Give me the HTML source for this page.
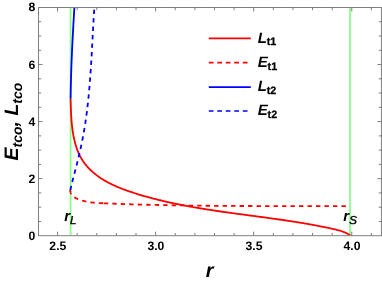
<!DOCTYPE html>
<html><head><meta charset="utf-8"><title>plot</title>
<style>html,body{margin:0;padding:0;background:#fff;overflow:hidden}svg{display:block;will-change:transform}text{font-family:"Liberation Sans",sans-serif;text-rendering:geometricPrecision}</style></head>
<body>
<svg width="382" height="282" viewBox="0 0 382 282">
<defs><clipPath id="c"><rect x="38.5" y="7.5" width="342.7" height="228.2"/></clipPath></defs>
<rect width="382" height="282" fill="#fff"/>
<g clip-path="url(#c)">
<line x1="70.6" y1="7.5" x2="70.6" y2="235.7" stroke="#8cff8c" stroke-width="1.8"/>
<line x1="350.0" y1="7.5" x2="350.0" y2="235.7" stroke="#8cff8c" stroke-width="1.8"/>
<path d="M70.60,98.40 L70.56,99.28 L70.59,100.15 L70.62,101.02 L70.65,101.89 L70.67,102.77 L70.70,103.64 L70.73,104.51 L70.76,105.38 L70.79,106.25 L70.82,107.11 L70.85,107.98 L70.88,108.85 L70.92,109.72 L70.95,110.59 L70.99,111.45 L71.03,112.32 L71.07,113.19 L71.11,114.05 L71.16,114.92 L71.20,115.78 L71.25,116.65 L71.31,117.51 L71.36,118.38 L71.42,119.24 L71.49,120.10 L71.55,120.97 L71.63,121.83 L71.70,122.70 L71.78,123.56 L71.86,124.42 L71.95,125.28 L72.04,126.15 L72.14,127.01 L72.24,127.87 L72.35,128.73 L72.47,129.60 L72.59,130.46 L72.71,131.32 L72.84,132.18 L72.98,133.05 L73.13,133.91 L73.28,134.77 L73.43,135.63 L73.60,136.49 L73.77,137.35 L73.95,138.21 L74.14,139.07 L74.33,139.92 L74.53,140.78 L74.74,141.63 L74.96,142.48 L75.19,143.33 L75.43,144.17 L75.67,145.01 L75.93,145.85 L76.19,146.68 L76.47,147.51 L76.75,148.34 L77.04,149.16 L77.35,149.97 L77.66,150.78 L77.99,151.59 L78.32,152.39 L78.67,153.18 L79.02,153.97 L79.39,154.76 L79.77,155.53 L80.17,156.30 L80.57,157.06 L80.98,157.82 L81.41,158.57 L81.85,159.31 L82.31,160.04 L82.77,160.76 L83.25,161.48 L83.74,162.18 L84.25,162.88 L84.76,163.57 L85.29,164.25 L85.83,164.92 L86.38,165.59 L86.95,166.25 L87.52,166.89 L88.10,167.53 L88.70,168.17 L89.30,168.79 L89.91,169.40 L90.54,170.01 L91.17,170.61 L91.81,171.20 L92.46,171.78 L93.11,172.36 L93.78,172.92 L94.45,173.48 L95.13,174.03 L95.82,174.57 L96.51,175.11 L97.21,175.63 L97.92,176.15 L98.63,176.66 L99.35,177.16 L100.07,177.66 L100.80,178.15 L101.53,178.63 L102.27,179.10 L103.01,179.56 L103.76,180.02 L104.51,180.46 L105.26,180.90 L106.02,181.34 L106.78,181.76 L107.54,182.18 L108.31,182.59 L109.08,183.00 L109.85,183.40 L110.63,183.79 L111.41,184.17 L112.19,184.55 L112.98,184.93 L113.77,185.29 L114.56,185.66 L115.35,186.01 L116.15,186.36 L116.94,186.71 L117.74,187.05 L118.55,187.38 L119.35,187.71 L120.16,188.04 L120.97,188.36 L121.78,188.68 L122.59,188.99 L123.41,189.30 L124.22,189.60 L125.04,189.90 L125.86,190.20 L126.68,190.49 L127.50,190.78 L128.32,191.06 L129.15,191.35 L129.97,191.63 L130.80,191.90 L131.62,192.18 L132.45,192.45 L133.28,192.72 L134.11,192.99 L134.94,193.25 L135.77,193.51 L136.60,193.77 L137.43,194.03 L138.26,194.29 L139.09,194.54 L139.92,194.80 L140.75,195.05 L141.59,195.29 L142.42,195.54 L143.26,195.78 L144.09,196.02 L144.93,196.26 L145.76,196.50 L146.60,196.74 L147.44,196.97 L148.27,197.20 L149.11,197.43 L149.95,197.66 L150.79,197.89 L151.63,198.11 L152.47,198.33 L153.31,198.55 L154.15,198.77 L154.99,198.99 L155.83,199.21 L156.67,199.42 L157.52,199.63 L158.36,199.84 L159.20,200.05 L160.04,200.25 L160.89,200.46 L161.73,200.66 L162.58,200.86 L163.42,201.06 L164.27,201.26 L165.12,201.46 L165.96,201.65 L166.81,201.84 L167.66,202.04 L168.50,202.23 L169.35,202.41 L170.20,202.60 L171.05,202.79 L171.90,202.97 L172.75,203.15 L173.60,203.33 L174.45,203.51 L175.30,203.69 L176.15,203.87 L177.00,204.04 L177.85,204.22 L178.70,204.39 L179.56,204.56 L180.41,204.73 L181.26,204.90 L182.11,205.07 L182.97,205.23 L183.82,205.40 L184.67,205.56 L185.53,205.72 L186.38,205.88 L187.24,206.04 L188.09,206.20 L188.95,206.36 L189.80,206.51 L190.66,206.67 L191.52,206.82 L192.37,206.98 L193.23,207.13 L194.09,207.28 L194.94,207.43 L195.80,207.58 L196.66,207.72 L197.52,207.87 L198.37,208.01 L199.23,208.16 L200.09,208.30 L200.95,208.45 L201.81,208.59 L202.67,208.73 L203.53,208.87 L204.39,209.01 L205.25,209.14 L206.11,209.28 L206.97,209.42 L207.83,209.55 L208.69,209.69 L209.55,209.82 L210.41,209.95 L211.27,210.09 L212.13,210.22 L212.99,210.35 L213.85,210.48 L214.72,210.61 L215.58,210.74 L216.44,210.87 L217.30,210.99 L218.16,211.12 L219.02,211.25 L219.89,211.37 L220.75,211.50 L221.61,211.62 L222.47,211.74 L223.34,211.87 L224.20,211.99 L225.06,212.11 L225.93,212.24 L226.79,212.36 L227.65,212.48 L228.52,212.60 L229.38,212.72 L230.24,212.84 L231.11,212.96 L231.97,213.08 L232.83,213.19 L233.70,213.31 L234.56,213.43 L235.42,213.55 L236.29,213.67 L237.15,213.78 L238.01,213.90 L238.88,214.02 L239.74,214.13 L240.61,214.25 L241.47,214.36 L242.33,214.48 L243.20,214.59 L244.06,214.71 L244.92,214.83 L245.79,214.94 L246.65,215.06 L247.52,215.17 L248.38,215.28 L249.24,215.40 L250.11,215.51 L250.97,215.63 L251.83,215.74 L252.70,215.86 L253.56,215.97 L254.42,216.09 L255.29,216.20 L256.15,216.32 L257.01,216.43 L257.88,216.55 L258.74,216.66 L259.60,216.78 L260.47,216.89 L261.33,217.01 L262.19,217.12 L263.05,217.24 L263.92,217.36 L264.78,217.47 L265.64,217.59 L266.50,217.71 L267.37,217.82 L268.23,217.94 L269.09,218.06 L269.95,218.18 L270.81,218.30 L271.68,218.42 L272.54,218.54 L273.40,218.66 L274.26,218.78 L275.12,218.90 L275.98,219.02 L276.84,219.14 L277.71,219.26 L278.57,219.38 L279.43,219.51 L280.29,219.63 L281.15,219.76 L282.01,219.88 L282.87,220.01 L283.73,220.13 L284.59,220.26 L285.45,220.38 L286.31,220.51 L287.17,220.64 L288.03,220.77 L288.89,220.90 L289.75,221.03 L290.61,221.16 L291.47,221.29 L292.33,221.43 L293.19,221.56 L294.04,221.70 L294.90,221.83 L295.76,221.97 L296.62,222.10 L297.48,222.24 L298.34,222.38 L299.19,222.52 L300.05,222.66 L300.91,222.80 L301.77,222.94 L302.62,223.09 L303.48,223.23 L304.34,223.38 L305.20,223.52 L306.05,223.67 L306.91,223.82 L307.77,223.97 L308.62,224.12 L309.48,224.27 L310.33,224.42 L311.19,224.58 L312.04,224.73 L312.90,224.89 L313.76,225.05 L314.61,225.21 L315.47,225.37 L316.32,225.53 L317.18,225.69 L318.03,225.85 L318.88,226.02 L319.74,226.18 L320.59,226.35 L321.45,226.52 L322.30,226.69 L323.15,226.86 L324.01,227.04 L324.86,227.21 L325.71,227.39 L326.56,227.56 L327.42,227.74 L328.27,227.92 L329.12,228.10 L329.97,228.29 L330.83,228.47 L331.68,228.66 L332.53,228.85 L333.38,229.03 L334.23,229.23 L335.08,229.42 L335.93,229.62 L336.77,229.83 L337.61,230.04 L338.45,230.26 L339.29,230.49 L340.12,230.73 L340.95,230.99 L341.77,231.25 L342.58,231.53 L343.39,231.83 L344.19,232.14 L344.98,232.47 L345.77,232.82 L346.54,233.19 L347.31,233.58 L348.07,233.99 L348.81,234.43 L349.55,234.89 L350.00,235.70" fill="none" stroke="#ff0000" stroke-width="1.8" stroke-linejoin="round"/>
<path d="M70.60,190.20 L70.29,190.79 L70.34,191.31 L70.42,191.80 L70.53,192.27 L70.66,192.72 L70.82,193.16 L71.00,193.57 L71.21,193.97 L71.44,194.36 L71.68,194.72 L71.95,195.07 L72.24,195.41 L72.54,195.73 L72.86,196.04 L73.20,196.34 L73.55,196.62 L73.91,196.89 L74.29,197.15 L74.67,197.40 L75.07,197.63 L75.47,197.86 L75.88,198.08 L76.30,198.29 L76.73,198.50 L77.16,198.69 L77.59,198.88 L78.02,199.07 L78.46,199.24 L78.90,199.42 L79.34,199.58 L79.78,199.74 L80.22,199.90 L80.66,200.05 L81.10,200.20 L81.55,200.34 L82.00,200.48 L82.44,200.61 L82.89,200.74 L83.34,200.86 L83.79,200.98 L84.24,201.10 L84.69,201.21 L85.15,201.32 L85.60,201.42 L86.05,201.52 L86.51,201.61 L86.97,201.70 L87.42,201.79 L87.88,201.88 L88.34,201.96 L88.80,202.03 L89.26,202.11 L89.72,202.18 L90.19,202.25 L90.65,202.31 L91.11,202.37 L91.58,202.43 L92.04,202.49 L92.51,202.54 L92.97,202.59 L93.44,202.64 L93.90,202.69 L94.37,202.73 L94.84,202.78 L95.31,202.82 L95.78,202.86 L96.25,202.89 L96.72,202.93 L97.19,202.96 L97.66,202.99 L98.13,203.02 L98.60,203.05 L99.07,203.08 L99.54,203.10 L100.01,203.13 L100.48,203.15 L100.95,203.18 L101.43,203.20 L101.90,203.22 L102.37,203.24 L102.84,203.26 L103.32,203.28 L103.79,203.30" fill="none" stroke="#ff0000" stroke-width="1.8" stroke-dasharray="4.4 4.09"/>
<path d="M103.79,203.30 L104.26,203.32 L104.73,203.34 L105.21,203.36 L105.68,203.38 L106.15,203.40 L106.62,203.42 L107.10,203.44 L107.57,203.46 L108.04,203.47 L108.51,203.49 L108.99,203.51 L109.46,203.53 L109.93,203.55 L110.40,203.57 L110.88,203.59 L111.35,203.60 L111.82,203.62 L112.29,203.64 L112.77,203.66 L113.24,203.67 L113.71,203.69 L114.18,203.71 L114.65,203.73 L115.13,203.74 L115.60,203.76 L116.07,203.78 L116.54,203.80 L117.01,203.81 L117.49,203.83 L117.96,203.85 L118.43,203.86 L118.90,203.88 L119.38,203.90 L119.85,203.91 L120.32,203.93 L120.79,203.95 L121.26,203.96 L121.73,203.98 L122.21,203.99 L122.68,204.01 L123.15,204.03 L123.62,204.04 L124.09,204.06 L124.57,204.07 L125.04,204.09 L125.51,204.10 L125.98,204.12 L126.45,204.14 L126.92,204.15 L127.40,204.17 L127.87,204.18 L128.34,204.20 L128.81,204.21 L129.28,204.23 L129.75,204.24 L130.23,204.26 L130.70,204.27 L131.17,204.28 L131.64,204.30 L132.11,204.31 L132.58,204.33 L133.05,204.34 L133.53,204.36 L134.00,204.37 L134.47,204.38 L134.94,204.40 L135.41,204.41 L135.88,204.42 L136.35,204.44 L136.83,204.45 L137.30,204.47 L137.77,204.48 L138.24,204.49 L138.71,204.51 L139.18,204.52 L139.65,204.53 L140.12,204.55 L140.60,204.56 L141.07,204.57 L141.54,204.58 L142.01,204.60 L142.48,204.61 L142.95,204.62 L143.42,204.63 L143.89,204.65 L144.36,204.66 L144.84,204.67 L145.31,204.68 L145.78,204.70 L146.25,204.71 L146.72,204.72 L147.19,204.73 L147.66,204.74 L148.13,204.76 L148.60,204.77 L149.07,204.78 L149.55,204.79 L150.02,204.80 L150.49,204.81 L150.96,204.82 L151.43,204.84 L151.90,204.85 L152.37,204.86 L152.84,204.87 L153.31,204.88 L153.78,204.89 L154.25,204.90 L154.73,204.91 L155.20,204.92 L155.67,204.93 L156.14,204.95 L156.61,204.96 L157.08,204.97 L157.55,204.98 L158.02,204.99 L158.49,205.00 L158.96,205.01 L159.43,205.02 L159.90,205.03 L160.37,205.04 L160.84,205.05 L161.31,205.06 L161.79,205.07 L162.26,205.08 L162.73,205.09 L163.20,205.10 L163.67,205.11 L164.14,205.12 L164.61,205.13 L165.08,205.13 L165.55,205.14 L166.02,205.15 L166.49,205.16 L166.96,205.17 L167.43,205.18 L167.90,205.19 L168.37,205.20 L168.84,205.21 L169.31,205.22 L169.78,205.22 L170.25,205.23 L170.72,205.24 L171.20,205.25 L171.67,205.26 L172.14,205.27 L172.61,205.28 L173.08,205.28 L173.55,205.29 L174.02,205.30 L174.49,205.31 L174.96,205.32 L175.43,205.32 L175.90,205.33 L176.37,205.34 L176.84,205.35 L177.31,205.36 L177.78,205.36 L178.25,205.37 L178.72,205.38 L179.19,205.39 L179.66,205.39 L180.13,205.40 L180.60,205.41 L181.07,205.42 L181.54,205.42 L182.01,205.43 L182.48,205.44 L182.95,205.45 L183.42,205.45 L183.89,205.46 L184.36,205.47 L184.83,205.47 L185.30,205.48 L185.77,205.49 L186.24,205.49 L186.71,205.50 L187.18,205.51 L187.65,205.51 L188.12,205.52 L188.59,205.53 L189.06,205.53 L189.53,205.54 L190.00,205.55 L190.47,205.55 L190.94,205.56 L191.41,205.57 L191.88,205.57 L192.35,205.58 L192.82,205.58 L193.29,205.59 L193.76,205.60 L194.23,205.60 L194.70,205.61 L195.17,205.61 L195.64,205.62 L196.11,205.62 L196.58,205.63 L197.05,205.64 L197.52,205.64 L197.99,205.65 L198.46,205.65 L198.93,205.66 L199.40,205.66 L199.87,205.67 L200.34,205.67 L200.81,205.68 L201.28,205.68 L201.75,205.69 L202.22,205.69 L202.69,205.70 L203.16,205.70 L203.63,205.71 L204.10,205.71 L204.57,205.72 L205.04,205.72 L205.51,205.73 L205.98,205.73 L206.45,205.74 L206.92,205.74 L207.39,205.75 L207.86,205.75 L208.33,205.76 L208.80,205.76 L209.27,205.77 L209.74,205.77 L210.21,205.77 L210.68,205.78 L211.15,205.78 L211.62,205.79 L212.09,205.79 L212.56,205.79 L213.03,205.80 L213.50,205.80 L213.97,205.81 L214.44,205.81 L214.91,205.82 L215.38,205.82 L215.85,205.82 L216.32,205.83 L216.79,205.83 L217.26,205.83 L217.73,205.84 L218.20,205.84 L218.67,205.85 L219.14,205.85 L219.61,205.85 L220.08,205.86 L220.54,205.86 L221.01,205.86 L221.48,205.87 L221.95,205.87 L222.42,205.87 L222.89,205.88 L223.36,205.88 L223.83,205.88 L224.30,205.89 L224.77,205.89 L225.24,205.89 L225.71,205.90 L226.18,205.90 L226.65,205.90 L227.12,205.90 L227.59,205.91 L228.06,205.91 L228.53,205.91 L229.00,205.92 L229.47,205.92 L229.94,205.92 L230.41,205.93 L230.88,205.93 L231.35,205.93 L231.82,205.93 L232.29,205.94 L232.76,205.94 L233.23,205.94 L233.70,205.94 L234.17,205.95 L234.64,205.95 L235.11,205.95 L235.58,205.95 L236.05,205.96 L236.52,205.96 L236.99,205.96 L237.46,205.96 L237.93,205.97 L238.40,205.97 L238.86,205.97 L239.33,205.97 L239.80,205.97 L240.27,205.98 L240.74,205.98 L241.21,205.98 L241.68,205.98 L242.15,205.99 L242.62,205.99 L243.09,205.99 L243.56,205.99 L244.03,205.99 L244.50,206.00 L244.97,206.00 L245.44,206.00 L245.91,206.00 L246.38,206.00 L246.85,206.00 L247.32,206.01 L247.79,206.01 L248.26,206.01 L248.73,206.01 L249.20,206.01 L249.67,206.02 L250.14,206.02 L250.61,206.02 L251.08,206.02 L251.55,206.02 L252.02,206.02 L252.49,206.03 L252.96,206.03 L253.43,206.03 L253.90,206.03 L254.37,206.03 L254.84,206.03 L255.31,206.03 L255.78,206.04 L256.25,206.04 L256.72,206.04 L257.19,206.04 L257.66,206.04 L258.13,206.04 L258.60,206.04 L259.07,206.05 L259.54,206.05 L260.01,206.05 L260.48,206.05 L260.95,206.05 L261.42,206.05 L261.89,206.05 L262.36,206.05 L262.83,206.05 L263.30,206.06 L263.77,206.06 L264.24,206.06 L264.71,206.06 L265.18,206.06 L265.65,206.06 L266.12,206.06 L266.59,206.06 L267.06,206.06 L267.53,206.07 L268.00,206.07 L268.47,206.07 L268.94,206.07 L269.41,206.07 L269.88,206.07 L270.35,206.07 L270.82,206.07 L271.29,206.07 L271.76,206.07 L272.23,206.08 L272.70,206.08 L273.17,206.08 L273.64,206.08 L274.11,206.08 L274.58,206.08 L275.05,206.08 L275.52,206.08 L275.99,206.08 L276.46,206.08 L276.93,206.08 L277.40,206.08 L277.87,206.09 L278.34,206.09 L278.81,206.09 L279.28,206.09 L279.75,206.09 L280.22,206.09 L280.69,206.09 L281.16,206.09 L281.63,206.09 L282.10,206.09 L282.57,206.09 L283.04,206.09 L283.51,206.09 L283.98,206.10 L284.45,206.10 L284.92,206.10 L285.39,206.10 L285.86,206.10 L286.33,206.10 L286.80,206.10 L287.27,206.10 L287.74,206.10 L288.21,206.10 L288.68,206.10 L289.15,206.10 L289.62,206.10 L290.09,206.10 L290.56,206.10 L291.03,206.11 L291.51,206.11 L291.98,206.11 L292.45,206.11 L292.92,206.11 L293.39,206.11 L293.86,206.11 L294.33,206.11 L294.80,206.11 L295.27,206.11 L295.74,206.11 L296.21,206.11 L296.68,206.11 L297.15,206.11 L297.62,206.11 L298.09,206.11 L298.56,206.12 L299.03,206.12 L299.50,206.12 L299.97,206.12 L300.44,206.12 L300.92,206.12 L301.39,206.12 L301.86,206.12 L302.33,206.12 L302.80,206.12 L303.27,206.12 L303.74,206.12 L304.21,206.12 L304.68,206.12 L305.15,206.12 L305.62,206.13 L306.09,206.13 L306.56,206.13 L307.03,206.13 L307.51,206.13 L307.98,206.13 L308.45,206.13 L308.92,206.13 L309.39,206.13 L309.86,206.13 L310.33,206.13 L310.80,206.13 L311.27,206.13 L311.74,206.14 L312.21,206.14 L312.69,206.14 L313.16,206.14 L313.63,206.14 L314.10,206.14 L314.57,206.14 L315.04,206.14 L315.51,206.14 L315.98,206.14 L316.45,206.14 L316.92,206.14 L317.40,206.15 L317.87,206.15 L318.34,206.15 L318.81,206.15 L319.28,206.15 L319.75,206.15 L320.22,206.15 L320.69,206.15 L321.17,206.15 L321.64,206.15 L322.11,206.15 L322.58,206.16 L323.05,206.16 L323.52,206.16 L323.99,206.16 L324.46,206.16 L324.94,206.16 L325.41,206.16 L325.88,206.16 L326.35,206.16 L326.82,206.17 L327.29,206.17 L327.76,206.17 L328.24,206.17 L328.71,206.17 L329.18,206.17 L329.65,206.17 L330.12,206.17 L330.59,206.18 L331.06,206.18 L331.54,206.18 L332.01,206.18 L332.48,206.18 L332.95,206.18 L333.42,206.18 L333.89,206.19 L334.37,206.19 L334.84,206.19 L335.31,206.19 L335.78,206.19 L336.25,206.19 L336.72,206.19 L337.20,206.20 L337.67,206.20 L338.14,206.20 L338.61,206.20 L339.08,206.20 L339.56,206.20 L340.03,206.21 L340.50,206.21 L340.97,206.21 L341.44,206.21 L341.91,206.21 L342.39,206.21 L342.86,206.22 L343.33,206.22 L343.80,206.22 L344.28,206.22 L344.75,206.22 L345.22,206.23 L345.69,206.23 L346.16,206.23 L346.60,206.20" fill="none" stroke="#ff0000" stroke-width="1.8" stroke-dasharray="4.4 4.09"/>
<path d="M70.60,98.40 L70.60,97.48 L70.62,96.56 L70.63,95.64 L70.64,94.72 L70.66,93.80 L70.67,92.89 L70.69,91.97 L70.71,91.05 L70.72,90.13 L70.74,89.21 L70.76,88.29 L70.78,87.37 L70.80,86.45 L70.82,85.53 L70.84,84.62 L70.87,83.70 L70.89,82.78 L70.91,81.86 L70.94,80.94 L70.96,80.02 L70.99,79.10 L71.01,78.18 L71.04,77.27 L71.07,76.35 L71.09,75.43 L71.12,74.51 L71.15,73.59 L71.18,72.67 L71.21,71.75 L71.24,70.84 L71.27,69.92 L71.31,69.00 L71.34,68.08 L71.37,67.16 L71.40,66.24 L71.44,65.32 L71.47,64.41 L71.51,63.49 L71.54,62.57 L71.58,61.65 L71.62,60.73 L71.65,59.81 L71.69,58.90 L71.73,57.98 L71.77,57.06 L71.81,56.14 L71.85,55.22 L71.89,54.31 L71.93,53.39 L71.97,52.47 L72.01,51.55 L72.05,50.63 L72.09,49.71 L72.13,48.80 L72.18,47.88 L72.22,46.96 L72.26,46.04 L72.31,45.12 L72.35,44.21 L72.40,43.29 L72.44,42.37 L72.49,41.45 L72.53,40.53 L72.58,39.62 L72.63,38.70 L72.67,37.78 L72.72,36.86 L72.77,35.94 L72.82,35.03 L72.87,34.11 L72.91,33.19 L72.96,32.27 L73.01,31.36 L73.06,30.44 L73.11,29.52 L73.16,28.60 L73.21,27.68 L73.26,26.77 L73.31,25.85 L73.37,24.93 L73.42,24.01 L73.47,23.10 L73.52,22.18 L73.57,21.26 L73.63,20.34 L73.68,19.43 L73.73,18.51 L73.78,17.59 L73.84,16.67 L73.89,15.76 L73.95,14.84 L74.00,13.92 L74.05,13.00 L74.11,12.09 L74.16,11.17 L74.22,10.25 L74.27,9.33 L74.33,8.42 L74.40,7.50" fill="none" stroke="#0000ff" stroke-width="1.8"/>
<path d="M70.60,190.20 L70.46,189.55 L70.59,188.95 L70.72,188.35 L70.85,187.75 L70.99,187.15 L71.13,186.55 L71.27,185.95 L71.41,185.35 L71.55,184.75 L71.70,184.15 L71.84,183.56 L71.99,182.96 L72.14,182.36 L72.29,181.76 L72.44,181.17 L72.59,180.57 L72.74,179.97 L72.90,179.37 L73.05,178.78 L73.21,178.18 L73.36,177.58 L73.52,176.99 L73.67,176.39 L73.83,175.79 L73.99,175.20 L74.15,174.60 L74.30,174.00 L74.46,173.41 L74.62,172.81 L74.78,172.21 L74.93,171.61 L75.09,171.02 L75.25,170.42 L75.40,169.82 L75.56,169.22 L75.71,168.63 L75.87,168.03 L76.02,167.43 L76.17,166.83 L76.33,166.23 L76.48,165.63 L76.63,165.03 L76.79,164.43 L76.94,163.83 L77.09,163.23 L77.24,162.64 L77.39,162.04 L77.54,161.44 L77.68,160.83 L77.83,160.23 L77.98,159.63 L78.13,159.03 L78.27,158.43 L78.42,157.83 L78.56,157.23 L78.71,156.63 L78.85,156.03 L78.99,155.43 L79.13,154.82 L79.28,154.22 L79.42,153.62 L79.56,153.02 L79.70,152.41 L79.83,151.81 L79.97,151.21 L80.11,150.61 L80.24,150.00 L80.38,149.40 L80.51,148.80 L80.64,148.19 L80.78,147.59 L80.91,146.98 L81.04,146.38 L81.17,145.78 L81.30,145.17 L81.43,144.57 L81.55,143.96 L81.68,143.36 L81.80,142.75 L81.93,142.15 L82.05,141.54 L82.17,140.93 L82.29,140.33 L82.41,139.72 L82.53,139.12 L82.65,138.51 L82.76,137.90 L82.88,137.30 L82.99,136.69 L83.11,136.08 L83.22,135.47 L83.33,134.87 L83.44,134.26 L83.55,133.65 L83.66,133.04 L83.77,132.44 L83.87,131.83 L83.98,131.22 L84.09,130.61 L84.19,130.00 L84.29,129.39 L84.39,128.79 L84.49,128.18 L84.59,127.57 L84.69,126.96 L84.79,126.35 L84.89,125.74 L84.98,125.13 L85.08,124.52 L85.17,123.91 L85.27,123.30 L85.36,122.69 L85.45,122.08 L85.54,121.47 L85.63,120.86 L85.72,120.25 L85.81,119.63 L85.90,119.02 L85.98,118.41 L86.07,117.80 L86.16,117.19 L86.24,116.58 L86.32,115.97 L86.41,115.35 L86.49,114.74 L86.57,114.13 L86.65,113.52 L86.73,112.90 L86.81,112.29 L86.89,111.68 L86.96,111.07 L87.04,110.45 L87.11,109.84 L87.19,109.23 L87.26,108.61 L87.34,108.00 L87.41,107.39 L87.48,106.77 L87.55,106.16 L87.62,105.55 L87.69,104.93 L87.76,104.32 L87.83,103.71 L87.90,103.09 L87.97,102.48 L88.03,101.86 L88.10,101.25 L88.16,100.63 L88.23,100.02 L88.29,99.41 L88.36,98.79 L88.42,98.18 L88.48,97.56 L88.54,96.95 L88.60,96.33 L88.66,95.72 L88.72,95.10 L88.78,94.49 L88.84,93.87 L88.90,93.25 L88.96,92.64 L89.01,92.02 L89.07,91.41 L89.13,90.79 L89.18,90.18 L89.24,89.56 L89.29,88.94 L89.34,88.33 L89.40,87.71 L89.45,87.10 L89.50,86.48 L89.55,85.86 L89.60,85.25 L89.66,84.63 L89.71,84.01 L89.76,83.40 L89.80,82.78 L89.85,82.16 L89.90,81.55 L89.95,80.93 L90.00,80.31 L90.04,79.70 L90.09,79.08 L90.14,78.46 L90.18,77.85 L90.23,77.23 L90.27,76.61 L90.32,76.00 L90.36,75.38 L90.41,74.76 L90.45,74.14 L90.49,73.53 L90.54,72.91 L90.58,72.29 L90.62,71.67 L90.66,71.06 L90.70,70.44 L90.74,69.82 L90.79,69.20 L90.83,68.59 L90.87,67.97 L90.91,67.35 L90.95,66.73 L90.98,66.12 L91.02,65.50 L91.06,64.88 L91.10,64.26 L91.14,63.65 L91.18,63.03 L91.21,62.41 L91.25,61.79 L91.29,61.18 L91.33,60.56 L91.36,59.94 L91.40,59.32 L91.44,58.70 L91.47,58.09 L91.51,57.47 L91.54,56.85 L91.58,56.23 L91.61,55.61 L91.65,55.00 L91.68,54.38 L91.72,53.76 L91.75,53.14 L91.79,52.53 L91.82,51.91 L91.86,51.29 L91.89,50.67 L91.93,50.05 L91.96,49.44 L91.99,48.82 L92.03,48.20 L92.06,47.58 L92.09,46.97 L92.13,46.35 L92.16,45.73 L92.19,45.11 L92.23,44.49 L92.26,43.88 L92.29,43.26 L92.33,42.64 L92.36,42.02 L92.39,41.41 L92.43,40.79 L92.46,40.17 L92.49,39.55 L92.53,38.94 L92.56,38.32 L92.59,37.70 L92.62,37.08 L92.66,36.47 L92.69,35.85 L92.72,35.23 L92.76,34.62 L92.79,34.00 L92.82,33.38 L92.86,32.76 L92.89,32.15 L92.92,31.53 L92.96,30.91 L92.99,30.30 L93.02,29.68 L93.06,29.06 L93.09,28.45 L93.13,27.83 L93.16,27.21 L93.19,26.60 L93.23,25.98 L93.26,25.36 L93.30,24.75 L93.33,24.13 L93.37,23.51 L93.40,22.90 L93.44,22.28 L93.47,21.67 L93.51,21.05 L93.54,20.43 L93.58,19.82 L93.62,19.20 L93.65,18.59 L93.69,17.97 L93.73,17.36 L93.76,16.74 L93.80,16.12 L93.84,15.51 L93.88,14.89 L93.92,14.28 L93.95,13.66 L93.99,13.05 L94.03,12.43 L94.07,11.82 L94.11,11.20 L94.15,10.59 L94.19,9.97 L94.23,9.36 L94.27,8.75 L94.31,8.13 L94.30,7.50" fill="none" stroke="#0000ff" stroke-width="1.8" stroke-dasharray="4.4 4.09"/>
</g>
<rect x="38.5" y="7.5" width="342.95" height="228.2" fill="none" stroke="#808080" stroke-width="1"/>
<path d="M57.55,235.7v-4.0M57.55,7.5v4.0M77.17,235.7v-2.7M77.17,7.5v2.7M96.78,235.7v-2.7M96.78,7.5v2.7M116.39,235.7v-2.7M116.39,7.5v2.7M136.01,235.7v-2.7M136.01,7.5v2.7M155.62,235.7v-4.0M155.62,7.5v4.0M175.24,235.7v-2.7M175.24,7.5v2.7M194.86,235.7v-2.7M194.86,7.5v2.7M214.47,235.7v-2.7M214.47,7.5v2.7M234.08,235.7v-2.7M234.08,7.5v2.7M253.70,235.7v-4.0M253.70,7.5v4.0M273.31,235.7v-2.7M273.31,7.5v2.7M292.93,235.7v-2.7M292.93,7.5v2.7M312.54,235.7v-2.7M312.54,7.5v2.7M332.16,235.7v-2.7M332.16,7.5v2.7M351.78,235.7v-4.0M351.78,7.5v4.0M371.39,235.7v-2.7M371.39,7.5v2.7M38.5,221.44h2.7M381.45,221.44h-2.7M38.5,207.17h2.7M381.45,207.17h-2.7M38.5,192.91h2.7M381.45,192.91h-2.7M38.5,178.65h4.0M381.45,178.65h-4.0M38.5,164.39h2.7M381.45,164.39h-2.7M38.5,150.12h2.7M381.45,150.12h-2.7M38.5,135.86h2.7M381.45,135.86h-2.7M38.5,121.60h4.0M381.45,121.60h-4.0M38.5,107.34h2.7M381.45,107.34h-2.7M38.5,93.07h2.7M381.45,93.07h-2.7M38.5,78.81h2.7M381.45,78.81h-2.7M38.5,64.55h4.0M381.45,64.55h-4.0M38.5,50.29h2.7M381.45,50.29h-2.7M38.5,36.03h2.7M381.45,36.03h-2.7M38.5,21.76h2.7M381.45,21.76h-2.7" stroke="#6e6e6e" stroke-width="0.9" fill="none"/>
<g font-family="Liberation Sans, sans-serif" font-weight="bold" font-size="12.2px" fill="#000">
<text x="57.85" y="250.35" text-anchor="middle">2.5</text>
<text x="155.93" y="250.35" text-anchor="middle">3.0</text>
<text x="254.00" y="250.35" text-anchor="middle">3.5</text>
<text x="352.08" y="250.35" text-anchor="middle">4.0</text>
<text x="35.3" y="240.1" text-anchor="end">0</text>
<text x="35.3" y="183.1" text-anchor="end">2</text>
<text x="35.3" y="125.85" text-anchor="end">4</text>
<text x="35.3" y="68.55" text-anchor="end">6</text>
<text x="35.3" y="11.25" text-anchor="end">8</text>
</g>
<text x="209.6" y="277.4" font-size="20px" text-anchor="middle" font-family="Liberation Sans, sans-serif" font-weight="bold" font-style="italic" fill="#000">r</text>
<g transform="translate(17.9,121.5) rotate(-90)" font-family="Liberation Sans, sans-serif" font-weight="bold" font-style="italic" fill="#000">
<text x="-38.89" y="0" font-size="19.5px">E</text>
<text x="-25.88" y="3.6" font-size="14px">tco</text>
<text x="-4.88" y="0" font-size="19.5px">,</text>
<text x="5.97" y="0" font-size="19.5px">L</text>
<text x="17.89" y="3.6" font-size="14px">tco</text>
</g>
<text x="64.3" y="221.4" font-size="15px" font-family="Liberation Sans, sans-serif" font-weight="bold" font-style="italic" fill="#000">r</text>
<text x="69.9" y="223.7" font-size="11.5px" stroke="#000" stroke-width="0.4" font-family="Liberation Sans, sans-serif" font-style="italic" fill="#000">L</text>
<text x="343.2" y="221.4" font-size="15px" font-family="Liberation Sans, sans-serif" font-weight="bold" font-style="italic" fill="#000">r</text>
<text x="349.3" y="223.9" font-size="11.5px" stroke="#000" stroke-width="0.4" font-family="Liberation Sans, sans-serif" font-style="italic" fill="#000">S</text>
<line x1="208.8" y1="38.4" x2="250.8" y2="38.4" stroke="#ff0000" stroke-width="1.7"/>
<text x="257.7" y="42.65" font-size="15px" font-family="Liberation Sans, sans-serif" font-weight="bold" font-style="italic" fill="#000">L</text>
<text x="266.77" y="45.40" font-size="10.8px" font-family="Liberation Sans, sans-serif" font-weight="bold" fill="#000" stroke="#000" stroke-width="0.25">t1</text>
<line x1="208.8" y1="62.7" x2="250.8" y2="62.7" stroke="#ff0000" stroke-width="1.7" stroke-dasharray="4.7 3.8"/>
<text x="257.7" y="66.95" font-size="15px" font-family="Liberation Sans, sans-serif" font-weight="bold" font-style="italic" fill="#000">E</text>
<text x="267.60" y="69.70" font-size="10.8px" font-family="Liberation Sans, sans-serif" font-weight="bold" fill="#000" stroke="#000" stroke-width="0.25">t1</text>
<line x1="208.8" y1="87.1" x2="250.8" y2="87.1" stroke="#0000ff" stroke-width="1.7"/>
<text x="257.7" y="91.35" font-size="15px" font-family="Liberation Sans, sans-serif" font-weight="bold" font-style="italic" fill="#000">L</text>
<text x="266.77" y="94.10" font-size="10.8px" font-family="Liberation Sans, sans-serif" font-weight="bold" fill="#000" stroke="#000" stroke-width="0.25">t2</text>
<line x1="208.8" y1="111.0" x2="250.8" y2="111.0" stroke="#0000ff" stroke-width="1.7" stroke-dasharray="4.7 3.8"/>
<text x="257.7" y="115.25" font-size="15px" font-family="Liberation Sans, sans-serif" font-weight="bold" font-style="italic" fill="#000">E</text>
<text x="267.60" y="118.00" font-size="10.8px" font-family="Liberation Sans, sans-serif" font-weight="bold" fill="#000" stroke="#000" stroke-width="0.25">t2</text>
</svg>
</body></html>
